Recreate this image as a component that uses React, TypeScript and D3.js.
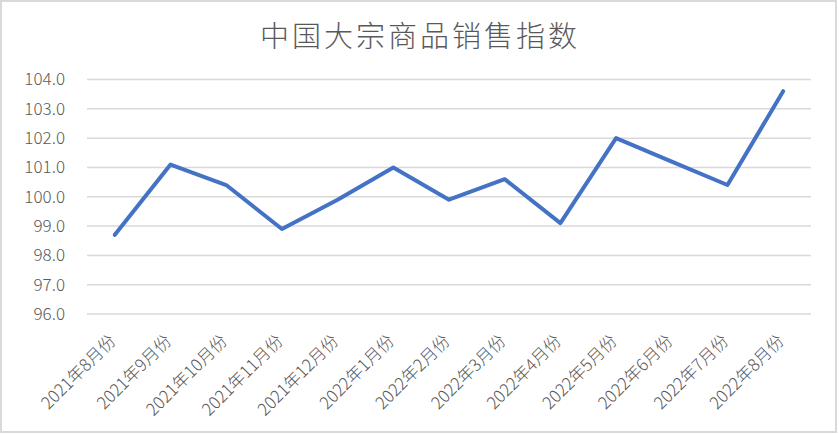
import React from "react";
import * as d3 from "d3";

const categories = [
  "2021年8月份", "2021年9月份", "2021年10月份", "2021年11月份", "2021年12月份",
  "2022年1月份", "2022年2月份", "2022年3月份", "2022年4月份", "2022年5月份",
  "2022年6月份", "2022年7月份", "2022年8月份",
];
const values = [98.7, 101.1, 100.4, 98.9, 99.9, 101.0, 99.9, 100.6, 99.1, 102.0, 101.2, 100.4, 103.6];
const yTicks = [96, 97, 98, 99, 100, 101, 102, 103, 104];
const title = "中国大宗商品销售指数";

const W = 839;
const H = 434;
const left = 87;
const right = 811;
const top = 79.5;
const bottom = 314;

export default function App() {
  const x = d3.scaleBand<string>().domain(categories).range([left, right]);
  const y = d3.scaleLinear().domain([96, 104]).range([bottom, top]);
  const line = d3
    .line<number>()
    .x((_, i) => (x(categories[i]) as number) + x.bandwidth() / 2)
    .y((d) => y(d));
  const font = "'Noto Sans CJK SC', 'Noto Sans', sans-serif";
  return (
    <svg
      width={W}
      height={H}
      style={{ position: "absolute", left: 0, top: 0, background: "#fff" }}
    >
      <rect x={1} y={1} width={W - 4} height={H - 3} fill="#fff" stroke="#d9d9d9" strokeWidth={2} />
      <text x={420} y={47} textAnchor="middle" fontFamily={font} fontSize={29} fontWeight={300} fill="#595959" letterSpacing={3}>
        {title}
      </text>
      {yTicks.map((t) => (
        <g key={t}>
          <line x1={left} x2={right} y1={y(t)} y2={y(t)} stroke="#d9d9d9" strokeWidth={1.5} />
          <text x={65} y={y(t)} dy="0.35em" textAnchor="end" fontFamily={font} fontSize={17} fontWeight={300} fill="#595959">
            {t.toFixed(1)}
          </text>
        </g>
      ))}
      {categories.map((c) => {
        const cx = (x(c) as number) + x.bandwidth() / 2 + 2;
        const cy = 342;
        return (
          <text
            key={c}
            x={cx}
            y={cy}
            textAnchor="end"
            transform={`rotate(-45, ${cx}, ${cy})`}
            fontFamily={font}
            fontSize={17}
            fontWeight={300}
            fill="#595959"
          >
            {c}
          </text>
        );
      })}
      <path
        d={line(values) || ""}
        fill="none"
        stroke="#4472c4"
        strokeWidth={4}
        strokeLinejoin="round"
        strokeLinecap="round"
      />
    </svg>
  );
}
